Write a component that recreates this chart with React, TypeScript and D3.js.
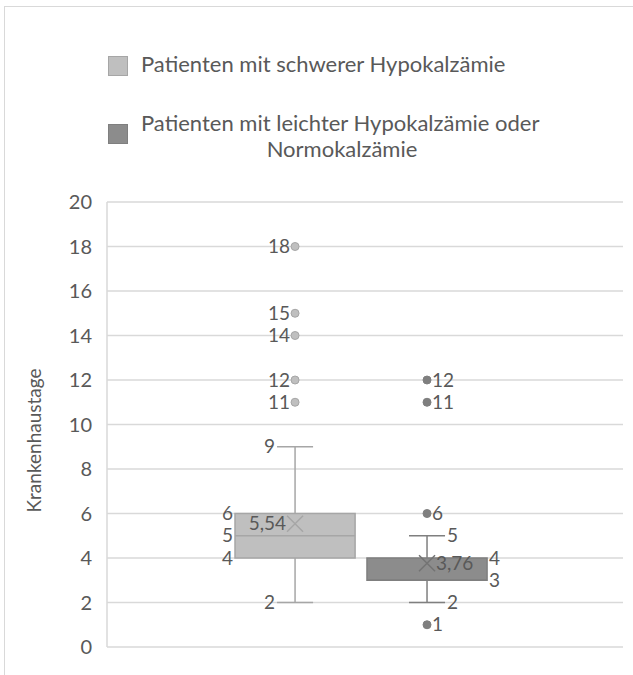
import React from "react";
import * as d3 from "d3";

const seriesNames = [
  "Patienten mit schwerer Hypokalzämie",
  "Patienten mit leichter Hypokalzämie oder Normokalzämie",
];
const legendLines = [
  ["Patienten mit schwerer Hypokalzämie"],
  ["Patienten mit leichter Hypokalzämie oder", "Normokalzämie"],
];
const whiskerLow = [2, 2];
const q1 = [4, 3];
const median = [5, 3];
const q3 = [6, 4];
const whiskerHigh = [9, 5];
const means = [5.54, 3.76];
const meanLabels = ["5,54", "3,76"];
const outliers = [
  [11, 12, 14, 15, 18],
  [1, 6, 11, 12],
];
const yTicks = [0, 2, 4, 6, 8, 10, 12, 14, 16, 18, 20];
const yTitle = "Krankenhaustage";

const fills = ["#bfbfbf", "#8c8c8c"];
const strokes = ["#a6a6a6", "#7f7f7f"];
const dotFills = ["#bfbfbf", "#7f7f7f"];
const textColor = "#595959";
const FONT = "Lato, 'Open Sans', sans-serif";

export default function App() {
  const W = 633, H = 675;
  const left = 107, right = 623, top = 202, bottom = 647;
  const y = d3.scaleLinear().domain([0, 20]).range([bottom, top]);
  const x = d3
    .scaleBand<string>()
    .domain(seriesNames)
    .range([left, right])
    .paddingInner(0.09)
    .paddingOuter(1)
    .align(0.485);
  const bw = x.bandwidth();
  const capHalf = bw * 0.15;
  const fs = 19;

  return (
    <svg width={W} height={H} style={{ position: "absolute", left: 0, top: 0, background: "#fff" }}>
      <rect x={4.5} y={6.5} width={W} height={H} fill="#fff" stroke="#d9d9d9" />
      {/* legend */}
      {legendLines.map((lines, i) => {
        const ly = i === 0 ? 56 : 124;
        return (
          <g key={i}>
            <rect x={108.5} y={ly + 0.5} width={19} height={19} fill={fills[i]} stroke={strokes[i]} />
            {lines.map((t, j) => (
              <text
                key={j}
                x={j === 0 ? 141 : 342}
                y={(i === 0 ? 72 : 131) + j * 26}
                textAnchor={j === 0 ? "start" : "middle"}
                fontFamily={FONT}
                fontSize={22}
                fill={textColor}
              >
                {t}
              </text>
            ))}
          </g>
        );
      })}
      {/* gridlines */}
      {yTicks.map((t) => (
        <g key={t}>
          <line x1={left} x2={right} y1={y(t)} y2={y(t)} stroke="#d9d9d9" strokeWidth={1.5} />
          <text x={92} y={y(t)} dy="0.35em" textAnchor="end" fontFamily={FONT} fontSize={20} fill={textColor}>
            {t}
          </text>
        </g>
      ))}
      <line x1={left} x2={left} y1={top} y2={bottom} stroke="#d9d9d9" strokeWidth={1.5} />
      <text
        transform={`translate(41,${(top + bottom) / 2 + 16}) rotate(-90)`}
        textAnchor="middle"
        fontFamily={FONT}
        fontSize={19}
        fill={textColor}
      >
        {yTitle}
      </text>
      {/* boxes */}
      {seriesNames.map((s, i) => {
        const x0 = x(s)!;
        const cx = x0 + bw / 2;
        const labLeft = i === 0;
        const anchor = labLeft ? "end" : "start";
        const capLabX = labLeft ? cx - capHalf - 2 : cx + capHalf + 2;
        return (
          <g key={s}>
            <line x1={cx} x2={cx} y1={y(whiskerHigh[i])} y2={y(q3[i])} stroke={strokes[i]} strokeWidth={1.5} />
            <line x1={cx} x2={cx} y1={y(q1[i])} y2={y(whiskerLow[i])} stroke={strokes[i]} strokeWidth={1.5} />
            <line x1={cx - capHalf} x2={cx + capHalf} y1={y(whiskerHigh[i])} y2={y(whiskerHigh[i])} stroke={strokes[i]} strokeWidth={1.5} />
            <line x1={cx - capHalf} x2={cx + capHalf} y1={y(whiskerLow[i])} y2={y(whiskerLow[i])} stroke={strokes[i]} strokeWidth={1.5} />
            <rect x={x0} y={y(q3[i])} width={bw} height={y(q1[i]) - y(q3[i])} fill={fills[i]} stroke={strokes[i]} strokeWidth={1.5} />
            <line x1={x0} x2={x0 + bw} y1={y(median[i])} y2={y(median[i])} stroke={strokes[i]} strokeWidth={1.5} />
            {/* mean X */}
            <path
              d={`M${cx - 8},${y(means[i]) - 8}L${cx + 8},${y(means[i]) + 8}M${cx - 8},${y(means[i]) + 8}L${cx + 8},${y(means[i]) - 8}`}
              stroke={i === 0 ? "#a6a6a6" : "#737373"}
              strokeWidth={1.5}
              fill="none"
            />
            <text
              x={labLeft ? cx - 9 : cx + 9}
              y={y(means[i])}
              dy="0.35em"
              textAnchor={anchor}
              fontFamily={FONT}
              fontSize={fs}
              fill={textColor}
            >
              {meanLabels[i]}
            </text>
            {/* outliers */}
            {outliers[i].map((o) => (
              <g key={o}>
                <circle cx={cx} cy={y(o)} r={4} fill={dotFills[i]} stroke={strokes[i]} />
                <text x={labLeft ? cx - 5 : cx + 5} y={y(o)} dy="0.35em" textAnchor={anchor} fontFamily={FONT} fontSize={fs} fill={textColor}>
                  {o}
                </text>
              </g>
            ))}
            {/* whisker labels */}
            <text x={capLabX} y={y(whiskerHigh[i])} dy="0.35em" textAnchor={anchor} fontFamily={FONT} fontSize={fs} fill={textColor}>
              {whiskerHigh[i]}
            </text>
            <text x={capLabX} y={y(whiskerLow[i])} dy="0.35em" textAnchor={anchor} fontFamily={FONT} fontSize={fs} fill={textColor}>
              {whiskerLow[i]}
            </text>
            {/* box labels */}
            {[q3[i], median[i], q1[i]]
              .filter((v, k, arr) => arr.indexOf(v) === k)
              .map((v) => (
                <text
                  key={v}
                  x={labLeft ? x0 - 2 : x0 + bw + 2}
                  y={y(v)}
                  dy="0.35em"
                  textAnchor={anchor}
                  fontFamily={FONT}
                  fontSize={fs}
                  fill={textColor}
                >
                  {v}
                </text>
              ))}
          </g>
        );
      })}
    </svg>
  );
}
